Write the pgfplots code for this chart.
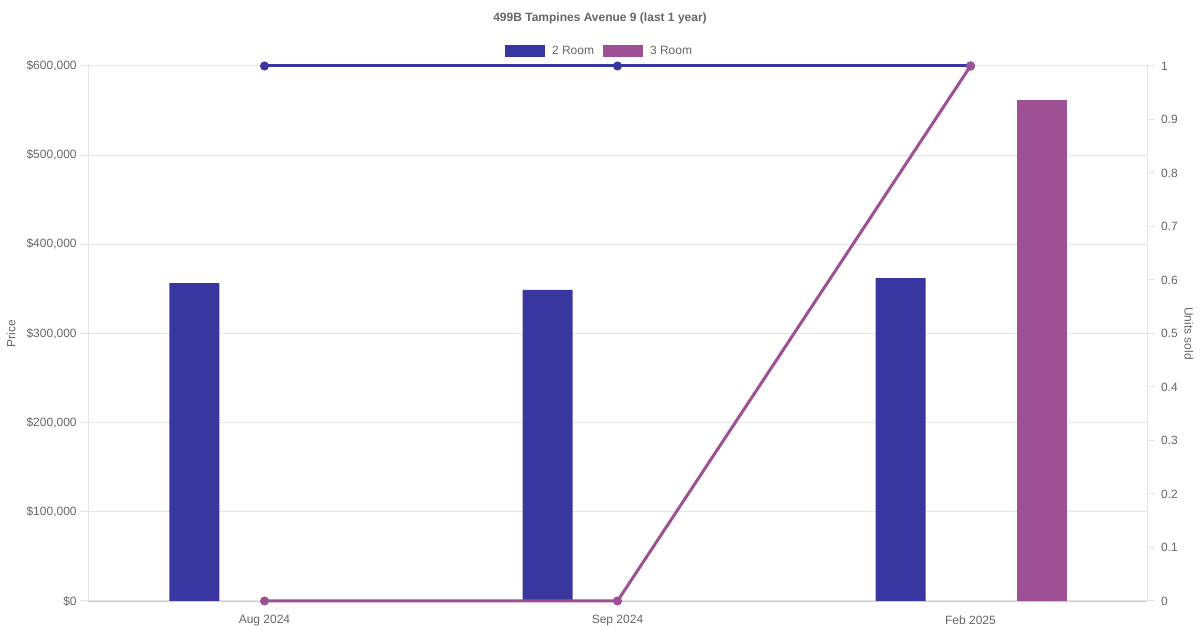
\documentclass[border=0pt]{standalone}
\usepackage{pgfplots}
\pgfplotsset{compat=1.18}
\usepackage{fontspec}
\setmainfont{Liberation Sans}
\definecolor{roomA}{RGB}{58,54,160}
\definecolor{roomB}{RGB}{158,80,148}
\definecolor{txt}{RGB}{102,102,102}
\definecolor{gridc}{RGB}{229,229,229}
\definecolor{axc}{RGB}{205,205,205}
\begin{document}
\begin{tikzpicture}
\path[use as bounding box] (0,0) rectangle (900pt,472.5pt);
\begin{axis}[
  at={(66pt,21.75pt)}, anchor=south west,
  width=794.25pt, height=401.25pt, scale only axis,
  xmin=-0.5, xmax=2.5, ymin=0, ymax=600000,
  scaled y ticks=false,
  axis x line*=bottom, axis y line*=left,
  x axis line style={draw=axc, -}, y axis line style={draw=gridc, -},
  xtick={0,1,2}, xticklabels={Aug 2024, Sep 2024, Feb 2025},
  x tick style={draw=none},
  ytick={0,100000,200000,300000,400000,500000,600000},
  yticklabels={{\$0},{\$100,000},{\$200,000},{\$300,000},{\$400,000},{\$500,000},{\$600,000}},
  y tick style={draw=gridc, line width=0.75pt},
  major tick length=6pt, tick align=outside,
  ymajorgrids, grid style={draw=gridc, line width=0.75pt},
  /pgf/number format/assume math mode=true,
  tick label style={font=\fontsize{9}{10}\selectfont, text=txt},
  yticklabel style={xshift=1pt},
  xticklabel style={yshift=-1.25pt},
  every axis y label/.style={at={(axis description cs:0,0.5)}, xshift=-57.75pt, rotate=90, anchor=center, font=\fontsize{9}{10}\selectfont, text=txt},
  ylabel={Price},
  legend style={at={(axis description cs:0.4835,1.028)}, anchor=center, draw=none, fill=none,
    font=\fontsize{9}{10}\selectfont, text=txt, legend columns=2,
    /tikz/every odd column/.append style={column sep=3pt},
    /tikz/every even column/.append style={column sep=5pt}},
  legend image code/.code={\fill[#1,draw=none] (0pt,-4.5pt) rectangle (30pt,4.5pt);},
]
\addplot[ybar, bar width=37.5pt, bar shift=-52.5pt, fill=roomA, draw=none] coordinates {(0,356600) (1,348800) (2,362200)};
\addlegendentry{2 Room}
\addplot[ybar, bar width=37.5pt, bar shift=53.25pt, fill=roomB, draw=none] coordinates {(2,561900)};
\addlegendentry{3 Room}
\end{axis}
\begin{axis}[
  at={(66pt,21.75pt)}, anchor=south west,
  width=794.25pt, height=401.25pt, scale only axis,
  xmin=-0.5, xmax=2.5, ymin=0, ymax=1,
  axis x line=none, axis y line*=right,
  y axis line style={draw=gridc, -},
  ytick={0,0.1,0.2,0.3,0.4,0.5,0.6,0.7,0.8,0.9,1},
  yticklabels={0,0.1,0.2,0.3,0.4,0.5,0.6,0.7,0.8,0.9,1},
  y tick style={draw=gridc, line width=0.75pt},
  major tick length=6pt, tick align=outside,
  /pgf/number format/assume math mode=true,
  tick label style={font=\fontsize{9}{10}\selectfont, text=txt},
  yticklabel style={xshift=1pt},
  every axis y label/.style={at={(axis description cs:1,0.5)}, xshift=31.5pt, rotate=-90, anchor=center, font=\fontsize{9}{10}\selectfont, text=txt},
  ylabel={Units sold},
  clip=false,
]
\addplot[roomA, line width=2.25pt, mark=*, mark size=2.2pt, mark options={solid, fill=roomA, draw=none}] coordinates {(0,1) (1,1) (2,1)};
\addplot[roomB, line width=2.25pt, mark=*, mark size=2.2pt, mark options={solid, fill=roomB, draw=none}] coordinates {(0,0) (1,0) (2,1)};
\end{axis}
\node[font=\bfseries\fontsize{9}{10}\selectfont, text=txt] at (450pt,459pt) {499B Tampines Avenue 9 (last 1 year)};
\end{tikzpicture}
\end{document}
